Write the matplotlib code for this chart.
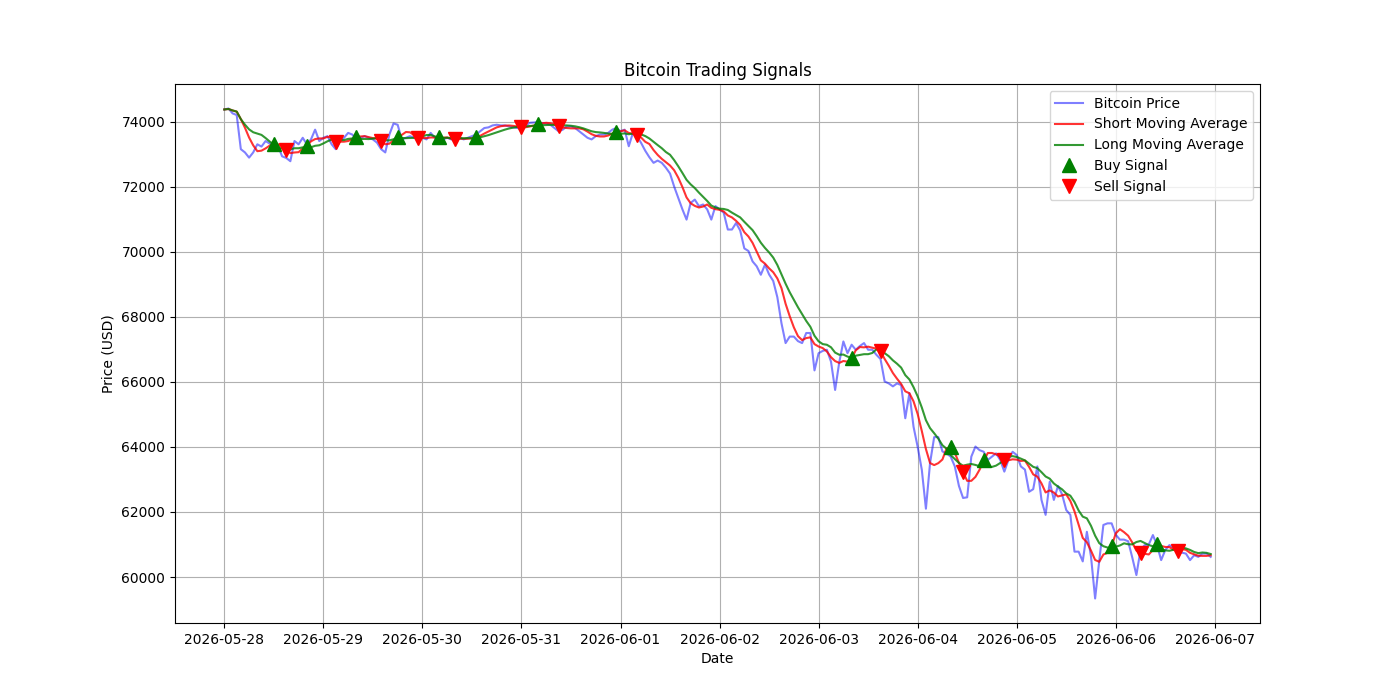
import pandas as pd
from matplotlib import pyplot as plt

# hourly closing prices, one line per day
day1 = [74370, 74400, 74250, 74200, 73150, 73050, 72890, 73050, 73300, 73230, 73400, 73320,
        73300, 73250, 72930, 72880, 72780, 73400, 73300, 73500, 73300, 73450, 73750, 73400]
day2 = [73500, 73550, 73300, 73150, 73400, 73500, 73650, 73600, 73450, 73500, 73550, 73500,
        73450, 73350, 73150, 73050, 73600, 73940, 73900, 73450, 73500, 73550, 73500, 73450]
day3 = [73500, 73450, 73650, 73500, 73450, 73450, 73500, 73450, 73450, 73500, 73450, 73500,
        73550, 73600, 73700, 73800, 73820, 73880, 73900, 73880, 73880, 73850, 73820, 73800]
day4 = [73780, 73870, 73960, 73970, 73980, 73950, 73940, 73900, 73800, 73700, 73750, 73850,
        73850, 73800, 73700, 73600, 73500, 73450, 73550, 73600, 73600, 73650, 73750, 73800]
day5 = [73700, 73750, 73240, 73650, 73550, 73340, 73100, 72900, 72730, 72800, 72730, 72580,
        72400, 72000, 71650, 71300, 70985, 71500, 71600, 71400, 71450, 71300, 70985, 71400]
day6 = [71300, 71200, 70680, 70680, 70880, 70650, 70100, 70020, 69700, 69550, 69290, 69600,
        69300, 69100, 68600, 67800, 67190, 67390, 67390, 67250, 67190, 67500, 67500, 66350]
day7 = [66880, 66950, 66985, 66620, 65750, 66600, 67240, 66880, 67140, 66985, 67100, 67190,
        66985, 66985, 66830, 66700, 66010, 65950, 65860, 65950, 65900, 64880, 65650, 64620]
day8 = [64000, 63300, 62100, 63500, 64300, 64300, 63860, 63800, 63700, 63400, 62800, 62430,
        62450, 63700, 64010, 63900, 63850, 63600, 63700, 63800, 63600, 63240, 63600, 63850]
day9 = [63750, 63400, 63300, 62620, 62700, 63400, 62370, 61910, 62930, 62370, 62800, 62540,
        62060, 61910, 60780, 60780, 60480, 61390, 60630, 59340, 60500, 61600, 61650, 61650]
day10 = [61300, 61150, 61150, 61100, 60600, 60060, 60830, 60980, 61000, 61290, 60980, 60520,
         60830, 60980, 60900, 60830, 60750, 60720, 60520, 60670, 60620, 60720, 60720, 60620]

# hours (from 2026-05-28 00:00) where the moving averages cross
buy_hours = [12, 20, 32, 42, 52, 61, 76, 95, 152, 176, 184, 215, 226]
sell_hours = [15, 27, 38, 47, 56, 72, 81, 100, 159, 179, 189, 222, 231]

short_window = 5
long_window = 10

prices = day1 + day2 + day3 + day4 + day5 + day6 + day7 + day8 + day9 + day10
dates = pd.date_range("2026-05-28", periods=len(prices), freq="h")
data = pd.DataFrame({"price": prices}, index=dates)
data["short_ma"] = data["price"].rolling(short_window, min_periods=1).mean()
data["long_ma"] = data["price"].rolling(long_window, min_periods=1).mean()

buys = data.iloc[buy_hours]
sells = data.iloc[sell_hours]

plt.figure(figsize=(14, 7))
plt.plot(data.index.to_pydatetime(), data["price"], color="blue", alpha=0.5, label="Bitcoin Price")
plt.plot(data.index.to_pydatetime(), data["short_ma"], color="red", alpha=0.8, label="Short Moving Average")
plt.plot(data.index.to_pydatetime(), data["long_ma"], color="green", alpha=0.8, label="Long Moving Average")
plt.plot(buys.index.to_pydatetime(), buys["short_ma"], "^", color="g", markersize=10, label="Buy Signal")
plt.plot(sells.index.to_pydatetime(), sells["short_ma"], "v", color="r", markersize=10, label="Sell Signal")
plt.title("Bitcoin Trading Signals")
plt.xlabel("Date")
plt.ylabel("Price (USD)")
plt.legend()
plt.grid(True)
plt.savefig("out.png")
